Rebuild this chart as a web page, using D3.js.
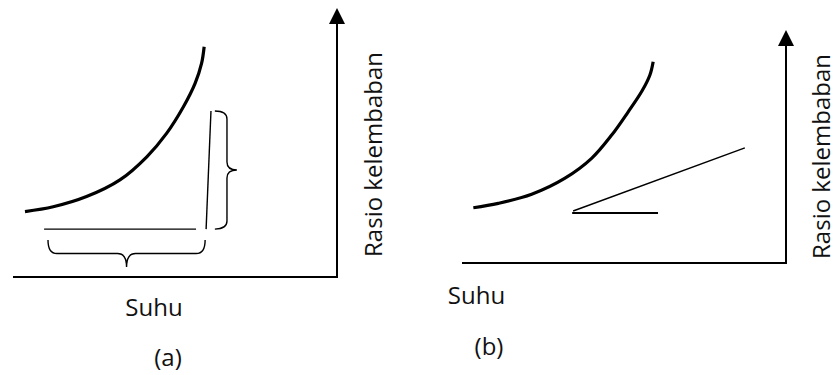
<!DOCTYPE html>
<html>
<head>
<meta charset="utf-8">
<script src="https://cdn.jsdelivr.net/npm/d3@7"></script>
<style>
  html, body { margin: 0; padding: 0; background: #fff; }
  svg text { font-family: "Open Sans", "Noto Sans", sans-serif; fill: #111; }
</style>
</head>
<body>
<svg id="chart" width="837" height="375"></svg>
<script>
// --- data (schematic units 0..100 on both axes, per panel) ---
const axisLabelX = "Suhu";
const axisLabelY = "Rasio kelembaban";
const panelLabels = ["(a)", "(b)"];

// saturation-like curve, panel (a)
const curveA = [
  [3.7, 24.3], [12.4, 26.1], [22.7, 29.9], [33.0, 36.1], [41.3, 44.7],
  [47.4, 53.4], [52.6, 63.3], [56.2, 72.0], [58.2, 79.4], [59.0, 85.6]
];
// panel (a): horizontal run, near-vertical rise, and their braces
const runA = [[9.6, 17.8], [56.5, 17.8]];
const riseA = [[59.6, 17.8], [61.1, 61.7]];
const braceRunA = { from: 10.8, to: 59.3, top: 13.8, tip: 3.7 };
const braceRiseA = { from: 17.8, to: 61.7, left: 62.3, tip: 69.1 };

// panel (b)
const curveB = [
  [3.5, 23.7], [11.2, 25.6], [21.5, 29.5], [31.8, 36.4], [40.0, 44.9],
  [46.2, 54.9], [51.3, 64.9], [55.5, 73.7], [58.0, 80.7], [59.0, 86.4]
];
const runB = [[34.0, 21.5], [60.5, 21.5]];
const slopeB = [[34.3, 22.3], [87.3, 49.4]];

const svg = d3.select("#chart");

// two panels, each with its own scales; the y axis sits on the right end of the x axis
const panels = [
  { x: d3.scaleLinear().domain([0, 100]).range([13, 337]),
    y: d3.scaleLinear().domain([0, 100]).range([277, 8]),
    curve: curveA, label: panelLabels[0],
    suhu: [154, 316], tag: [168, 366], ylab: [382, 154.5] },
  { x: d3.scaleLinear().domain([0, 100]).range([462, 786]),
    y: d3.scaleLinear().domain([0, 100]).range([263, 30]),
    curve: curveB, label: panelLabels[1],
    suhu: [476.5, 304], tag: [489, 355], ylab: [830, 156.5] }
];

panels.forEach(p => {
  const g = svg.append("g");
  const x0 = p.x(0), x1 = p.x(100), y0 = p.y(0), yTop = p.y(100);

  // axes
  g.append("line").attr("x1", x0).attr("x2", x1 + 1).attr("y1", y0).attr("y2", y0)
    .attr("stroke", "#000").attr("stroke-width", 2);
  g.append("line").attr("x1", x1).attr("x2", x1).attr("y1", y0 + 1).attr("y2", yTop + 14)
    .attr("stroke", "#000").attr("stroke-width", 2);
  g.append("path")
    .attr("d", `M${x1},${yTop} L${x1 - 8},${yTop + 16} L${x1 + 8},${yTop + 16} Z`)
    .attr("fill", "#000");

  // main curve
  const line = d3.line().x(d => p.x(d[0])).y(d => p.y(d[1])).curve(d3.curveCatmullRom);
  g.append("path").datum(p.curve).attr("d", line)
    .attr("fill", "none").attr("stroke", "#000").attr("stroke-width", 3.2);

  p.g = g;

  // labels
  g.append("text").attr("x", p.suhu[0]).attr("y", p.suhu[1])
    .attr("text-anchor", "middle").style("font-size", "24px").text(axisLabelX);
  g.append("text").attr("x", p.tag[0]).attr("y", p.tag[1])
    .attr("text-anchor", "middle").style("font-size", "24px").text(p.label);
  g.append("text")
    .attr("transform", `translate(${p.ylab[0]},${p.ylab[1]}) rotate(-90)`)
    .attr("text-anchor", "middle").style("font-size", "24px").text(axisLabelY);
});

// --- panel (a) extras ---
const pa = panels[0];
const straight = d3.line().x(d => pa.x(d[0])).y(d => pa.y(d[1]));
pa.g.append("path").datum(runA).attr("d", straight)
  .attr("stroke", "#000").attr("stroke-width", 1.4).attr("fill", "none");
pa.g.append("path").datum(riseA).attr("d", straight)
  .attr("stroke", "#000").attr("stroke-width", 1.4).attr("fill", "none");

// horizontal brace under the run
{
  const bx1 = pa.x(braceRunA.from), bx2 = pa.x(braceRunA.to);
  const top = pa.y(braceRunA.top), tip = pa.y(braceRunA.tip);
  const mid = (bx1 + bx2) / 2, ym = top + (tip - top) * 0.5, r = 9;
  pa.g.append("path")
    .attr("d", `M${bx1},${top} Q${bx1},${ym} ${bx1 + r},${ym} L${mid - r},${ym}
      Q${mid},${ym} ${mid},${tip} Q${mid},${ym} ${mid + r},${ym} L${bx2 - r},${ym}
      Q${bx2},${ym} ${bx2},${top}`)
    .attr("fill", "none").attr("stroke", "#000").attr("stroke-width", 1.4);
}
// vertical brace beside the rise
{
  const y1 = pa.y(braceRiseA.to), y2 = pa.y(braceRiseA.from);
  const left = pa.x(braceRiseA.left), tip = pa.x(braceRiseA.tip);
  const mid = (y1 + y2) / 2, xm = left + (tip - left) * 0.55, r = 8;
  pa.g.append("path")
    .attr("d", `M${left},${y1} Q${xm},${y1} ${xm},${y1 + r} L${xm},${mid - r}
      Q${xm},${mid} ${tip},${mid} Q${xm},${mid} ${xm},${mid + r} L${xm},${y2 - r}
      Q${xm},${y2} ${left},${y2}`)
    .attr("fill", "none").attr("stroke", "#000").attr("stroke-width", 1.4);
}

// --- panel (b) extras ---
const pb = panels[1];
const straightB = d3.line().x(d => pb.x(d[0])).y(d => pb.y(d[1]));
pb.g.append("path").datum(runB).attr("d", straightB)
  .attr("stroke", "#000").attr("stroke-width", 2).attr("fill", "none");
pb.g.append("path").datum(slopeB).attr("d", straightB)
  .attr("stroke", "#000").attr("stroke-width", 1.5).attr("fill", "none");
</script>
</body>
</html>
